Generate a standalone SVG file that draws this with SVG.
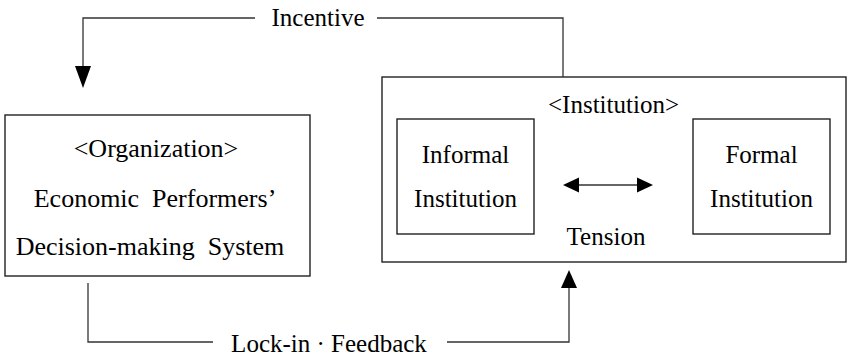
<svg xmlns="http://www.w3.org/2000/svg" width="848" height="358" viewBox="0 0 848 358">
<style>
  text { font-family: 'Liberation Serif', 'Times New Roman', serif; font-size: 25px; fill: #000; text-anchor: middle; }
  .org { font-size: 26px; }
  .box { fill: #fff; stroke: #222; stroke-width: 1.4; }
  .conn { fill: none; stroke: #333; stroke-width: 1.3; }
  .head { fill: #000; stroke: none; }
</style>
<rect width="848" height="358" fill="#fff"/>
<g id="organization">
  <rect class="box" x="5" y="115" width="305" height="161"/>
  <text class="org" x="156" y="157">&lt;Organization&gt;</text>
  <text class="org" x="155" y="207" xml:space="preserve">Economic  Performers’</text>
  <text class="org" x="150" y="255" xml:space="preserve">Decision-making  System</text>
</g>
<g id="institution">
  <rect class="box" x="382" y="77" width="464" height="185"/>
  <text x="613.5" y="113">&lt;Institution&gt;</text>
  <text x="606" y="245">Tension</text>
</g>
<g id="informal">
  <rect class="box" x="397" y="119" width="137" height="115"/>
  <text x="465.5" y="163">Informal</text>
  <text x="465.5" y="207">Institution</text>
</g>
<g id="formal">
  <rect class="box" x="693" y="119" width="137" height="115"/>
  <text x="761.5" y="163">Formal</text>
  <text x="761.5" y="207">Institution</text>
</g>
<g id="connectors">
  <polyline class="conn" points="563,77 563,18 377,18"/>
  <polyline class="conn" points="255,18 83,18 83,68"/>
  <polygon class="head" points="75,66 91,66 83,88"/>
  <text x="318" y="26">Incentive</text>
  <polyline class="conn" points="88,283 88,342 213,342"/>
  <polyline class="conn" points="447,342 569,342 569,286"/>
  <polygon class="head" points="561,288 577,288 569,270"/>
  <text x="329" y="352">Lock-in · Feedback</text>
  <line class="conn" x1="575" y1="185" x2="641" y2="185"/>
  <polygon class="head" points="563,185 579,177.5 579,192.5"/>
  <polygon class="head" points="653,185 637,177.5 637,192.5"/>
</g>
</svg>
